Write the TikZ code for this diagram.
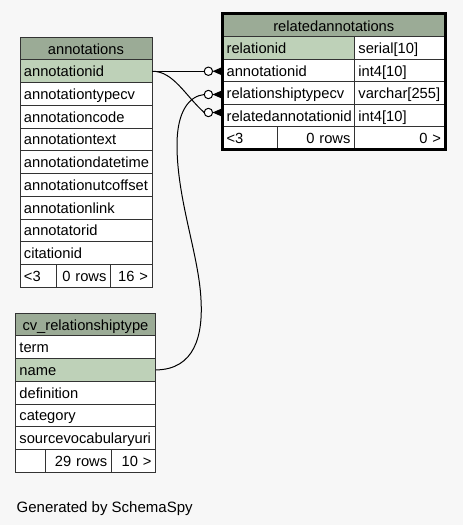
\documentclass[tikz,border=0pt]{standalone}
\usepackage{fontspec}
\setmainfont{Liberation Sans}
\usetikzlibrary{calc}
\definecolor{bg}{HTML}{F7F7F7}
\definecolor{hdr}{HTML}{9BAB96}
\definecolor{pk}{HTML}{BED1B8}
\newcommand\crowfoot[1]{%
  \fill[black] ($(#1)+(16.6,-3.6)$) -- ($(#1)+(8.4,0)$) -- ($(#1)+(16.6,3.6)$) -- cycle;
  \draw[link, fill=white] ($(#1)+(4.2,0)$) circle[radius=4.2pt];}
\begin{document}
\begin{tikzpicture}[x=1pt,y=-1pt,
  cell/.style={draw=black!80, line width=0.9pt, anchor=north west, inner xsep=4pt, inner ysep=0pt,
    text height=12pt, text depth=1pt, font=\fontsize{14.7pt}{17pt}\selectfont, fill=white},
  hdrcell/.style={cell, fill=hdr, align=center},
  pkcell/.style={cell, fill=pk, align=left},
  lcell/.style={cell, align=left},
  rcell/.style={cell, align=right},
  link/.style={draw=black, line width=1pt},
]
\fill[bg] (0,0) rectangle (463,525);
\useasboundingbox (0,0) rectangle (463,525);

% ---------- annotations ----------
\begin{scope}[every node/.append style={minimum height=22.73pt}]
\node[hdrcell, text width=124pt] (ann) at (19.5,36.7) {annotations};
\node[pkcell, text width=124pt] (ann-id) at (19.5,59.43) {annotationid};
\node[lcell, text width=124pt] (ann-type) at (19.5,82.16) {annotationtypecv};
\node[lcell, text width=124pt] (ann-code) at (19.5,104.89) {annotationcode};
\node[lcell, text width=124pt] (ann-text) at (19.5,127.62) {annotationtext};
\node[lcell, text width=124pt] (ann-dt) at (19.5,150.35) {annotationdatetime};
\node[lcell, text width=124pt] (ann-utc) at (19.5,173.08) {annotationutcoffset};
\node[lcell, text width=124pt] (ann-link) at (19.5,195.81) {annotationlink};
\node[lcell, text width=124pt] (ann-ator) at (19.5,218.54) {annotatorid};
\node[lcell, text width=124pt] (ann-cit) at (19.5,241.27) {citationid};
\node[lcell, text width=28.2pt] (ann-f1) at (19.5,264.0) {<3};
\node[rcell, text width=46.3pt] (ann-f2) at (55.7,264.0) {0 rows};
\node[rcell, text width=33.5pt] (ann-f3) at (110,264.0) {16 >};
\end{scope}

% ---------- relatedannotations ----------
\begin{scope}[every node/.append style={minimum height=22.5pt}]
\node[hdrcell, text width=214.3pt] (ra) at (222.2,13.8) {relatedannotations};
\node[pkcell, text width=123.8pt] (ra-rid) at (222.2,36.3) {relationid};
\node[lcell, text width=82.5pt] (ra-rid-t) at (354,36.3) {serial[10]};
\node[lcell, text width=123.8pt] (ra-annid) at (222.2,58.8) {annotationid};
\node[lcell, text width=82.5pt] (ra-annid-t) at (354,58.8) {int4[10]};
\node[lcell, text width=123.8pt] (ra-reltype) at (222.2,81.3) {relationshiptypecv};
\node[lcell, text width=82.5pt] (ra-reltype-t) at (354,81.3) {varchar[255]};
\node[lcell, text width=123.8pt] (ra-relid) at (222.2,103.8) {relatedannotationid};
\node[lcell, text width=82.5pt] (ra-relid-t) at (354,103.8) {int4[10]};
\node[lcell, text width=46.5pt] (ra-f1) at (222.2,126.3) {<3};
\node[rcell, text width=69.3pt] (ra-f2) at (276.7,126.3) {0 rows};
\node[rcell, text width=82.5pt] (ra-f3) at (354,126.3) {0 >};
\end{scope}
\draw[line width=3pt, black] (ra.north west) rectangle (ra-f3.south east);

% ---------- cv_relationshiptype ----------
\begin{scope}[every node/.append style={minimum height=22.71pt}]
\node[hdrcell, text width=132pt] (cv) at (15,312.7) {cv\_relationshiptype};
\node[lcell, text width=132pt] (cv-term) at (15,335.41) {term};
\node[pkcell, text width=132pt] (cv-name) at (15,358.12) {name};
\node[lcell, text width=132pt] (cv-def) at (15,380.83) {definition};
\node[lcell, text width=132pt] (cv-cat) at (15,403.54) {category};
\node[lcell, text width=132pt] (cv-src) at (15,426.25) {sourcevocabularyuri};
\node[lcell, text width=22pt] (cv-f1) at (15,448.96) {};
\node[rcell, text width=57.7pt] (cv-f2) at (45,448.96) {29 rows};
\node[rcell, text width=36.3pt] (cv-f3) at (110.7,448.96) {10 >};
\end{scope}

% ---------- connectors ----------
\path (ann-id.east -| ra-annid.west) ++(-18,0) coordinate (e1);
\coordinate (e2) at ($(ra-reltype.west)+(-18,1.5)$);
\coordinate (e3) at ($(ra-relid.west)+(-18,-3)$);

\draw[link] (ann-id.east) -- (e1);
\draw[link] (ann-id.east) .. controls +(21,0) and +(-19,-17) .. (e3);
\draw[link] (cv-name.east) .. controls (195,369.5) and (203,335) .. (201,300)
  .. controls (199,255) and (177,200) .. (177,145)
  .. controls (177,110) and (190,96) .. (e2);

\crowfoot{e1}
\crowfoot{e2}
\crowfoot{e3}

\node[anchor=base west, inner sep=0pt, font=\fontsize{15pt}{18pt}\selectfont] (cap) at (16.5,512.5) {Generated by SchemaSpy};
\end{tikzpicture}
\end{document}
